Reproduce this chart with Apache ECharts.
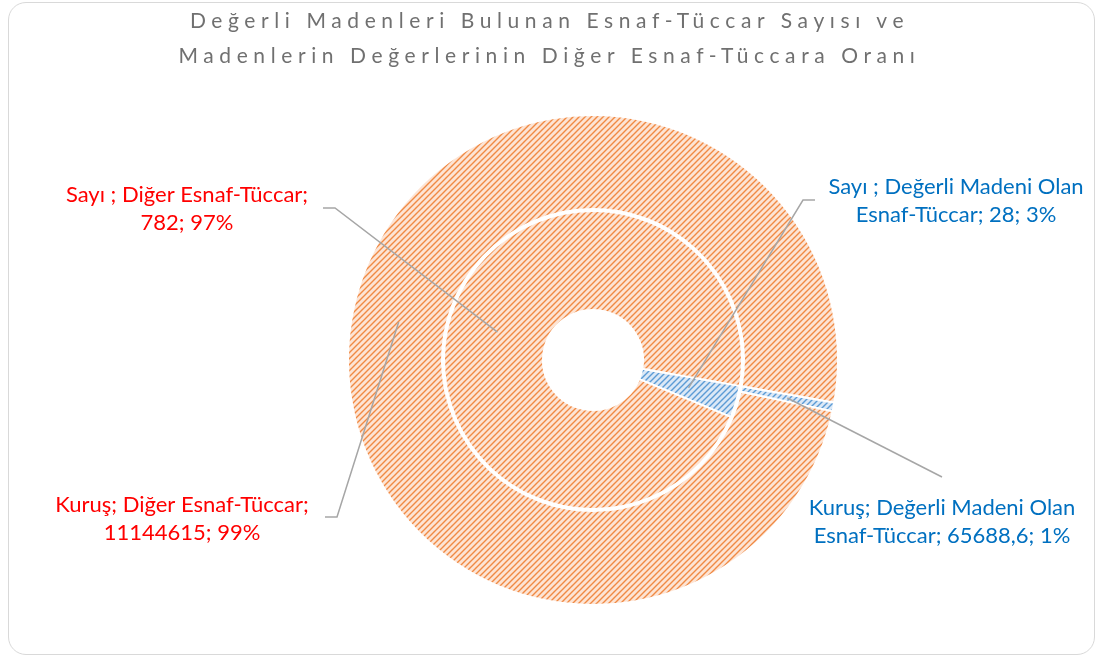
<!DOCTYPE html>
<html>
<head>
<meta charset="utf-8">
<script src="https://cdn.jsdelivr.net/npm/echarts@6/dist/echarts.min.js"></script>
<style>
  html, body { margin: 0; padding: 0; background: #fff; }
  #frame { position: absolute; left: 8px; top: 2px; width: 1085px; height: 651px; border: 1px solid #d9d9d9; border-radius: 18px; }
  #title { position: absolute; left: 0; top: 2px; width: 1099px; text-align: center; font-family: Lato, "Open Sans", sans-serif; font-size: 21px; letter-spacing: 5.6px; color: #707070; line-height: 35px; }
  #main { position: absolute; left: 0; top: 0; width: 1099px; height: 659px; }
</style>
</head>
<body>
<div id="frame"></div>
<div id="main"></div>
<div id="title">Değerli Madenleri Bulunan Esnaf-Tüccar Sayısı ve<br>Madenlerin Değerlerinin Diğer Esnaf-Tüccara Oranı</div>
<script>
// veriler
const categories = ['Değerli Madeni Olan Esnaf-Tüccar', 'Diğer Esnaf-Tüccar'];
const seriesNames = ['Sayı ', 'Kuruş'];
const sayiValues = [28, 782];
const kurusValues = [65688.6, 11144615];

// tarama deseni (Excel pattern fill gibi)
function hatch(bg, fg) {
  const c = document.createElement('canvas');
  c.width = 6; c.height = 6;
  const g = c.getContext('2d');
  g.fillStyle = bg;
  g.fillRect(0, 0, 6, 6);
  g.strokeStyle = fg;
  g.lineWidth = 1.4;
  g.beginPath();
  g.moveTo(-1, 7); g.lineTo(7, -1);
  g.moveTo(-1, 1); g.lineTo(1, -1);
  g.moveTo(5, 7); g.lineTo(7, 5);
  g.stroke();
  return { image: c, repeat: 'repeat' };
}
const fills = [hatch('#dbe8f6', '#5b9bd5'), hatch('#fde4d4', '#f08a44')];
const labelColors = ['#0070c0', '#ff0000'];

// etiket yerleri: [seri][veri]
const spots = [
  [ { x: 956, y: 201, line: [[803, 200], [815, 200]] },
    { x: 187, y: 209, line: [[335, 208], [323, 208]] } ],
  [ { x: 942, y: 522, line: [[942, 477], [942, 477]] },
    { x: 182, y: 519, line: [[337, 517], [325, 517]] } ]
];

const chart = echarts.init(document.getElementById('main'));

function fmt(p) {
  const v = String(p.value).replace('.', ',');
  const pct = Math.round(p.percent) + '%';
  if (p.dataIndex === 0) {
    return p.seriesName + '; Değerli Madeni Olan\nEsnaf-Tüccar; ' + v + '; ' + pct;
  }
  return p.seriesName + '; ' + p.name + ';\n' + v + '; ' + pct;
}

function makeData(values) {
  return values.map((v, i) => ({
    name: categories[i],
    value: v,
    itemStyle: { color: fills[i] },
    label: { color: labelColors[i] }
  }));
}

function layoutLabel(p) {
  const s = spots[p.seriesIndex][p.dataIndex];
  return { x: s.x, y: s.y, align: 'center', verticalAlign: 'middle' };
}

const common = {
  type: 'pie',
  center: [593, 360],
  startAngle: -10,
  clockwise: true,
  avoidLabelOverlap: false,
  itemStyle: { borderColor: '#fff', borderWidth: 2 },
  label: {
    show: true,
    position: 'outside',
    formatter: fmt,
    fontFamily: 'Lato, "Open Sans", sans-serif',
    fontSize: 22,
    lineHeight: 28,
    align: 'center'
  },
  labelLine: { show: false },
  labelLayout: layoutLabel,
  emphasis: { disabled: true }
};

chart.setOption({
  animation: false,
  series: [
    Object.assign({}, common, { name: seriesNames[0], radius: [50, 149], data: makeData(sayiValues) }),
    Object.assign({}, common, { name: seriesNames[1], radius: [151, 245], data: makeData(kurusValues) })
  ]
});

// kılavuz çizgileri: dilimin orta noktasından etikete
function anchorOf(si, di) {
  const lay = chart.getModel().getSeriesByIndex(si).getData().getItemLayout(di);
  const a = (lay.startAngle + lay.endAngle) / 2;
  const rm = (lay.r + lay.r0) / 2;
  return [lay.cx + rm * Math.cos(a), lay.cy + rm * Math.sin(a)];
}

const guides = [];
spots.forEach((row, si) => row.forEach((s, di) => {
  guides.push({
    type: 'polyline',
    z: 100,
    silent: true,
    shape: { points: [anchorOf(si, di), s.line[0], s.line[1]] },
    style: { stroke: '#a6a6a6', lineWidth: 1.5, fill: null }
  });
}));
chart.setOption({ graphic: guides });
</script>
</body>
</html>
